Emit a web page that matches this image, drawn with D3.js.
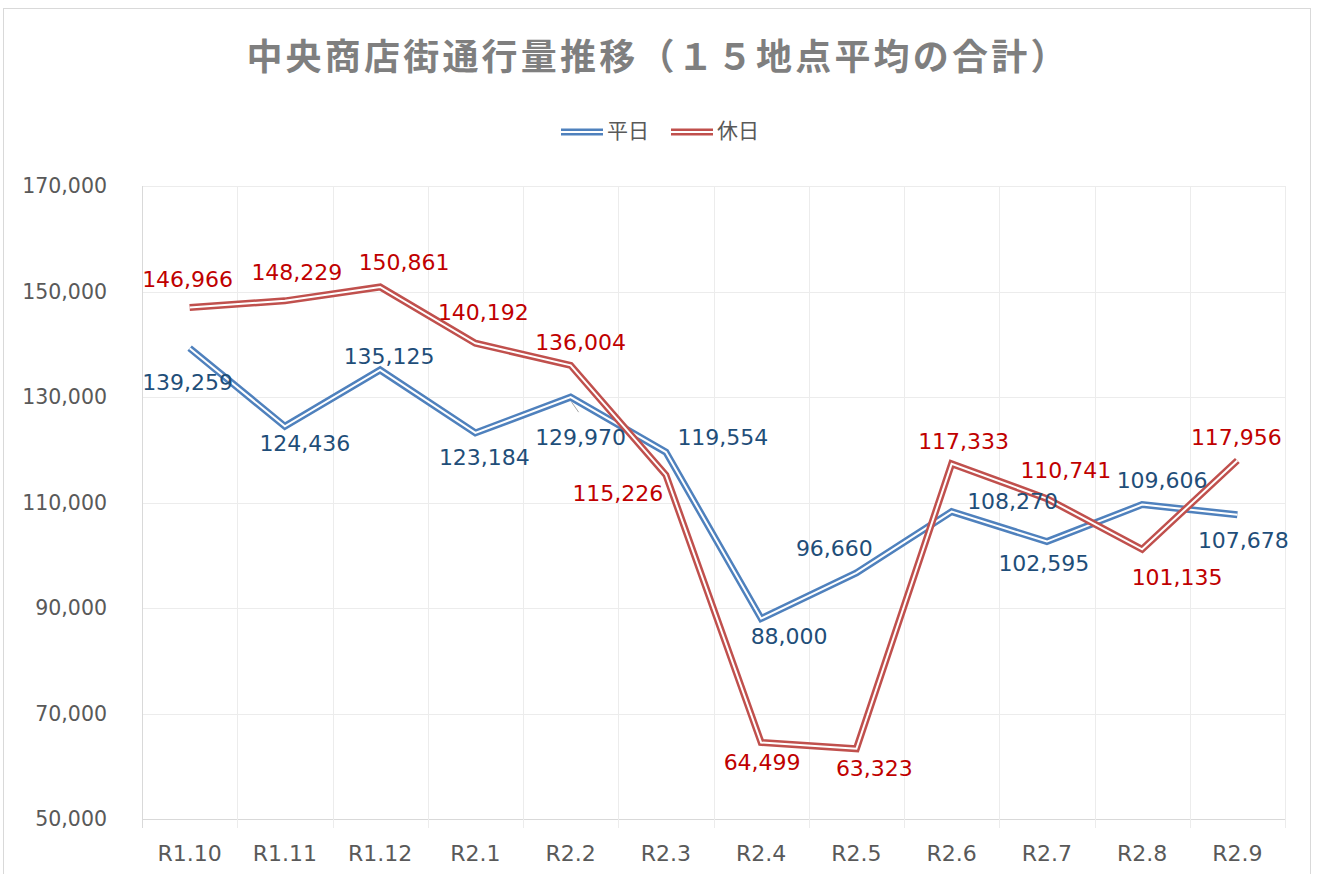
<!DOCTYPE html>
<html>
<head>
<meta charset="utf-8">
<title>中央商店街通行量推移</title>
<script src="https://cdn.jsdelivr.net/npm/d3@7"></script>
<style>
  body { margin: 0; background: #fff; }
  text { font-family: "DejaVu Sans", Verdana, sans-serif; }
</style>
</head>
<body>
<script>
// data
var categories = ["R1.10","R1.11","R1.12","R2.1","R2.2","R2.3","R2.4","R2.5","R2.6","R2.7","R2.8","R2.9"];
var weekday = [139259,124436,135125,123184,129970,119554,88000,96660,108270,102595,109606,107678];
var holiday = [146966,148229,150861,140192,136004,115226,64499,63323,117333,110741,101135,117956];
var yTicks = [50000,70000,90000,110000,130000,150000,170000];

// label offsets from each point (dx, dy), as Excel placed them
var weekdayLabelOff = [[-2,34],[20,17],[9,-14],[9,24],[10,40],[57,-15],[28,18],[-22,-25],[61,-10],[-3,22],[20,-24],[6,26]];
var holidayLabelOff = [[-2,-28],[12,-29],[24,-25],[8,-31],[10,-23],[-48,18],[1,20],[18,20],[12,-23],[19,-28],[35,28],[-1,-23]];

var W = 1320, H = 874;
var plotL = 142, plotR = 1285, plotT = 186, plotB = 819;

var svg = d3.select("body").append("svg").attr("width", W).attr("height", H);

svg.append("rect").attr("x", 3.5).attr("y", 8.5).attr("width", 1307).attr("height", 900)
  .attr("fill", "#fff").attr("stroke", "#d9d9d9");

var x = d3.scaleBand().domain(categories).range([plotL, plotR]);
var y = d3.scaleLinear().domain([50000, 170000]).range([plotB, plotT]);
var fmt = d3.format(",");

// grid
var g = svg.append("g");
g.selectAll(".hg").data(yTicks).enter().append("line")
  .attr("x1", plotL).attr("x2", plotR)
  .attr("y1", function(d){ return Math.round(y(d)) + 0.5; })
  .attr("y2", function(d){ return Math.round(y(d)) + 0.5; })
  .attr("stroke", function(d){ return d === 50000 ? "#d9d9d9" : "#ececec"; });
var edges = categories.map(function(c){ return x(c); }).concat([plotR]);
g.selectAll(".vg").data(edges).enter().append("line")
  .attr("x1", function(d){ return Math.round(d) + 0.5; })
  .attr("x2", function(d){ return Math.round(d) + 0.5; })
  .attr("y1", plotT).attr("y2", plotB + 9)
  .attr("stroke", function(d, i){ return i === 0 ? "#d9d9d9" : "#ececec"; });

// axes labels
svg.selectAll(".yl").data(yTicks).enter().append("text")
  .attr("x", 107).attr("y", function(d){ return y(d); })
  .attr("dy", "0.35em").attr("text-anchor", "end")
  .attr("font-size", 20.5).attr("fill", "#595959")
  .text(function(d){ return fmt(d); });
svg.selectAll(".xl").data(categories).enter().append("text")
  .attr("x", function(d){ return x(d) + x.bandwidth() / 2; }).attr("y", 853)
  .attr("dy", "0.35em").attr("text-anchor", "middle")
  .attr("font-size", 22).attr("fill", "#595959")
  .text(function(d){ return d; });

// title
svg.append("text").attr("x", 658).attr("y", 57).attr("dy", "0.35em")
  .attr("text-anchor", "middle")
  .style("font-family", "'Noto Sans CJK JP', sans-serif")
  .attr("font-weight", "bold").attr("font-size", 36).attr("letter-spacing", 3.2)
  .attr("fill", "#7f7f7f")
  .text("中央商店街通行量推移（１５地点平均の合計）");

// legend
var legend = [{name:"平日", color:"#4f81bd", lx:561}, {name:"休日", color:"#c0504d", lx:671}];
legend.forEach(function(l){
  svg.append("line").attr("x1", l.lx).attr("x2", l.lx + 42).attr("y1", 132).attr("y2", 132)
    .attr("stroke", l.color).attr("stroke-width", 7);
  svg.append("line").attr("x1", l.lx).attr("x2", l.lx + 42).attr("y1", 132).attr("y2", 132)
    .attr("stroke", "#fff").attr("stroke-width", 2);
  svg.append("text").attr("x", l.lx + 46).attr("y", 131).attr("dy", "0.35em")
    .style("font-family", "'Noto Sans CJK JP', sans-serif")
    .attr("font-size", 21).attr("fill", "#595959").text(l.name);
});

var line = d3.line()
  .x(function(d, i){ return x(categories[i]) + x.bandwidth() / 2; })
  .y(function(d){ return y(d); });

function drawSeries(vals, color) {
  svg.append("path").datum(vals).attr("d", line).attr("fill", "none")
    .attr("stroke", color).attr("stroke-width", 7);
  svg.append("path").datum(vals).attr("d", line).attr("fill", "none")
    .attr("stroke", "#fff").attr("stroke-width", 2);
}
drawSeries(weekday, "#4f81bd");
drawSeries(holiday, "#c0504d");

// small leader line on the R2.2 weekday label
var lx = x("R2.2") + x.bandwidth() / 2, ly = y(weekday[4]);
svg.append("line").attr("x1", lx + 1).attr("y1", ly + 5).attr("x2", lx + 8).attr("y2", ly + 15)
  .attr("stroke", "#a6a6a6").attr("stroke-width", 1);

function drawLabels(vals, offs, color) {
  svg.append("g").selectAll("text").data(vals).enter().append("text")
    .attr("x", function(d, i){ return x(categories[i]) + x.bandwidth() / 2 + offs[i][0]; })
    .attr("y", function(d, i){ return y(d) + offs[i][1]; })
    .attr("dy", "0.35em").attr("text-anchor", "middle")
    .attr("font-size", 22).attr("fill", color)
    .text(function(d){ return fmt(d); });
}
drawLabels(weekday, weekdayLabelOff, "#1f4e79");
drawLabels(holiday, holidayLabelOff, "#c00000");
</script>
</body>
</html>
